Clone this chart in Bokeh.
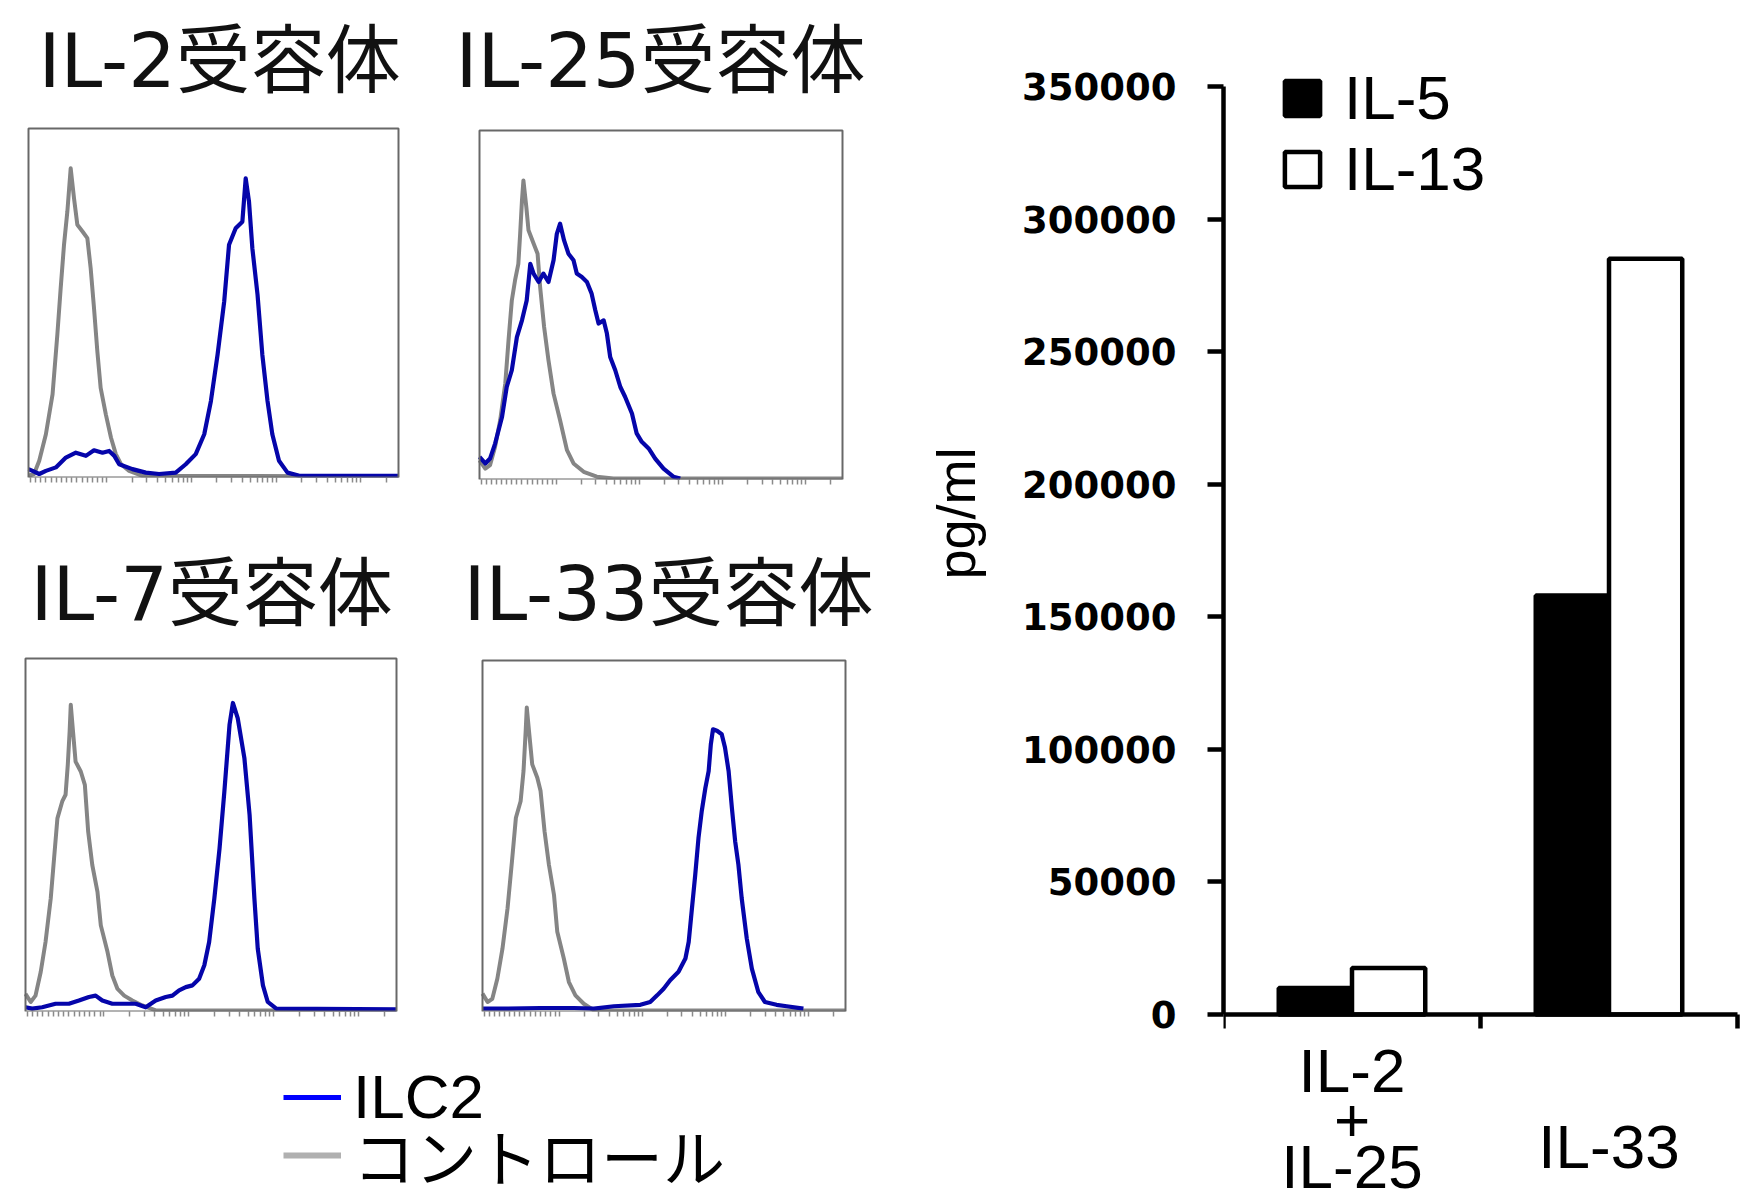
import math
from bokeh.plotting import figure
from bokeh.models import (Range1d, FixedTicker, Label, Legend, LegendItem,
                          NumeralTickFormatter, BoxAnnotation, LinearAxis)
from bokeh.layouts import row, column
from bokeh.embed import file_html
from bokeh.resources import INLINE

# ---------------- data: flow cytometry histograms ----------------
# x: fluorescence (position along the log axis, % of axis width); y: cell count (% of panel height)
panel_titles = ["IL-2受容体", "IL-25受容体", "IL-7受容体", "IL-33受容体"]
legend_hist = ["ILC2", "コントロール"]

il2r_ctrl_x = [0, 1.5, 2.9, 4.7, 6.5, 7.8, 8.7, 9.6, 10.5, 11.4, 12.3, 13.2, 14.6, 15.9, 16.8, 17.7, 18.6, 19.5, 20.9, 22.3, 23.6, 25.0, 27.2, 30.8, 100]
il2r_ctrl_y = [0.5, 1.0, 4.8, 12.4, 23.8, 41.0, 54.3, 66.7, 76.2, 88.6, 80.0, 72.4, 70.5, 68.6, 60.0, 48.6, 36.2, 25.7, 18.1, 11.4, 6.7, 3.8, 1.9, 0.5, 0.3]
il2r_ilc2_x = [0, 1.1, 2.9, 4.7, 7.4, 10.1, 12.8, 15.5, 17.7, 20.0, 21.8, 23.2, 24.5, 28.1, 31.7, 35.3, 39.8, 42.5, 45.2, 47.5, 49.3, 51.1, 52.9, 54.2, 56.0, 57.8, 58.7, 59.6, 60.5, 61.9, 63.2, 64.6, 65.9, 67.7, 70.0, 73.2, 100]
il2r_ilc2_y = [2.4, 1.9, 1.0, 1.9, 2.9, 5.7, 7.1, 6.2, 7.8, 7.1, 7.6, 6.2, 3.8, 2.4, 1.4, 1.0, 1.4, 3.8, 6.7, 12.4, 21.9, 35.2, 50.5, 66.7, 71.4, 73.3, 85.7, 79.0, 65.7, 52.4, 35.2, 21.9, 12.4, 4.8, 1.4, 0.5, 0.5]

il25r_ctrl_x = [0, 1.6, 2.9, 4.3, 5.7, 7.1, 8.0, 8.9, 9.8, 10.7, 11.2, 11.7, 12.1, 12.9, 13.5, 14.9, 16.0, 16.7, 17.8, 19.0, 20.4, 22.2, 24.1, 25.9, 28.7, 32.3, 36.9, 100]
il25r_ctrl_y = [5.5, 3.1, 4.1, 9.4, 17.0, 27.5, 39.9, 51.3, 57.1, 61.8, 70.4, 80.0, 85.7, 78.1, 71.4, 67.6, 64.7, 55.2, 43.7, 34.2, 24.6, 17.0, 8.4, 4.6, 2.2, 0.8, 0.3, 0.3]
il25r_ilc2_x = [0, 1.6, 2.9, 4.3, 6.2, 7.5, 8.9, 10.3, 11.7, 13.0, 14.0, 14.9, 16.3, 17.6, 19.0, 20.4, 21.3, 22.2, 23.3, 24.5, 25.9, 26.8, 28.2, 29.6, 30.9, 31.9, 32.8, 34.2, 35.1, 36.0, 37.4, 38.8, 40.1, 42.0, 43.3, 44.7, 46.6, 48.4, 50.7, 53.4, 55.3]
il25r_ilc2_y = [6.5, 4.6, 6.0, 10.3, 17.9, 26.5, 31.3, 40.8, 45.6, 51.3, 61.8, 59.0, 56.6, 59.0, 56.6, 62.8, 70.4, 73.3, 68.5, 64.7, 62.8, 59.0, 58.0, 56.6, 53.2, 48.5, 44.7, 45.6, 41.8, 35.1, 31.3, 26.5, 23.7, 18.9, 13.2, 10.8, 8.9, 6.0, 3.1, 0.8, 0.3]

il7r_ctrl_x = [0, 1.4, 2.7, 4.1, 5.4, 6.8, 7.7, 8.6, 9.9, 10.8, 11.4, 11.9, 12.2, 12.8, 13.5, 14.9, 16.0, 16.9, 18.0, 19.4, 20.3, 22.1, 23.4, 24.8, 26.6, 28.8, 31.5, 35.1, 100]
il7r_ctrl_y = [5.0, 2.7, 4.5, 11.2, 19.7, 32.0, 43.4, 54.7, 59.5, 61.4, 69.9, 79.4, 86.9, 79.4, 70.8, 68.0, 64.2, 50.9, 41.5, 33.9, 24.4, 16.9, 10.2, 6.4, 4.5, 3.1, 1.7, 0.3, 0.3]
il7r_ilc2_x = [0, 1.8, 4.5, 8.1, 11.7, 14.4, 17.1, 18.9, 20.7, 23.4, 27.0, 29.7, 32.4, 35.1, 37.8, 39.6, 41.4, 43.2, 45.0, 46.8, 48.2, 49.5, 50.9, 52.3, 53.6, 55.0, 55.9, 57.2, 59.0, 60.4, 61.7, 62.6, 64.0, 65.3, 67.6, 100]
il7r_ilc2_y = [1.2, 0.8, 1.2, 2.2, 2.2, 3.1, 4.1, 4.5, 3.1, 2.2, 2.2, 2.2, 1.2, 3.1, 4.1, 4.5, 6.0, 6.9, 7.4, 9.3, 13.1, 19.7, 32.0, 46.2, 62.3, 81.3, 87.4, 83.1, 71.8, 55.7, 32.0, 17.8, 7.4, 2.7, 0.8, 0.6]

il33r_ctrl_x = [0, 1.4, 2.7, 4.1, 5.5, 6.9, 8.2, 9.2, 10.5, 11.3, 11.9, 12.2, 12.8, 13.7, 15.1, 16.0, 17.1, 18.3, 19.7, 20.6, 22.4, 23.8, 25.6, 27.9, 30.7, 100]
il33r_ctrl_y = [5.1, 2.7, 3.6, 9.4, 17.9, 29.4, 43.7, 55.2, 59.9, 68.5, 80.0, 86.6, 80.0, 70.4, 66.6, 62.8, 51.3, 41.8, 33.2, 22.7, 15.1, 8.4, 4.6, 2.2, 0.3, 0.3]
il33r_ilc2_x = [0, 6.9, 16.0, 25.2, 30.7, 36.2, 43.5, 46.2, 48.1, 49.9, 51.7, 54.0, 55.9, 56.8, 57.7, 58.6, 59.5, 60.4, 61.4, 62.3, 62.9, 63.5, 64.6, 65.9, 66.8, 67.8, 68.7, 69.6, 70.5, 71.4, 72.8, 74.2, 76.0, 77.8, 81.0, 83.8, 88.4]
il33r_ilc2_y = [0.8, 0.8, 1.0, 1.0, 0.8, 1.5, 1.9, 2.7, 4.6, 6.5, 8.9, 11.3, 15.1, 19.8, 29.4, 38.9, 49.4, 57.1, 63.7, 68.5, 76.1, 80.4, 80.0, 79.0, 75.2, 68.5, 58.0, 48.5, 41.8, 32.3, 20.8, 12.2, 5.5, 2.7, 1.9, 1.5, 0.8]

# ---------------- data: cytokine production ----------------
stim_labels = ["IL-2\n+\nIL-25", "IL-33"]
cytokines = ["IL-5", "IL-13"]
il5_pgml = [10000, 158000]
il13_pgml = [17500, 285000]
y_ticks = [0, 50000, 100000, 150000, 200000, 250000, 300000, 350000]
y_max = 350000
y_title = "pg/ml"

# ---------------- styling ----------------
BLUE = "#0505aa"
GRAY = "#858585"
TITLE_FONT = "DejaVu Sans, Noto Sans CJK JP"
SANS = "Liberation Sans, Noto Sans CJK JP"

# log-like tick marks of the cytometer axis (decade starts, % of axis)
decades = [21.1, 44.0, 66.9, 89.8]
dec_w = 22.9
hist_ticks = [b for b in decades] + [b + dec_w * math.log10(k) for b in decades for k in range(2, 10)]
hist_ticks = [m for m in hist_ticks if m < 100] + [0.5 + 1.4 * i for i in range(15)]


def hist_fig(W, H, bl, bw, bt, bh, title, tx, ty, xc, yc, xi, yi):
    """W,H: figure size; bl,bw: box left/width; bt,bh: box top/height (px)."""
    fb = H - bt - bh
    p = figure(frame_width=W, frame_height=H - fb, min_border_left=0, min_border_right=0,
               min_border_top=0, min_border_bottom=fb,
               x_range=Range1d(-bl / bw * 100, (W - bl) / bw * 100),
               y_range=Range1d(0, (bt + bh) / bh * 100),
               y_axis_location=None, output_backend="svg", toolbar_location=None)
    p.grid.visible = False
    p.outline_line_color = None
    p.add_layout(BoxAnnotation(left=0, right=100, bottom=0, top=100, fill_color=None,
                               fill_alpha=0, line_color="#686868", line_alpha=1, line_width=2))
    ax = p.xaxis[0]
    ax.ticker = FixedTicker(ticks=[], minor_ticks=hist_ticks)
    ax.axis_line_color = None
    ax.minor_tick_line_color = "#8a8a8a"
    ax.minor_tick_line_width = 1.5
    ax.minor_tick_in = 0
    ax.minor_tick_out = 5
    ax.major_tick_line_color = None
    ax.major_tick_out = 0
    ax.major_label_standoff = 0
    p.line(xc, yc, line_color=GRAY, line_width=4, line_join="round")
    p.line(xi, yi, line_color=BLUE, line_width=4.2, line_join="round")
    p.add_layout(Label(x=0, y=100, x_offset=tx, y_offset=ty, text=title,
                       text_font=TITLE_FONT, text_font_size="75px", text_color="#111111",
                       text_baseline="middle", text_align="left"))
    return p


pA = hist_fig(432, 520, 28, 370, 128, 349, panel_titles[0], 10, 68,
              il2r_ctrl_x, il2r_ctrl_y, il2r_ilc2_x, il2r_ilc2_y)
pB = hist_fig(466, 520, 47, 363, 130, 349, panel_titles[1], -24, 70,
              il25r_ctrl_x, il25r_ctrl_y, il25r_ilc2_x, il25r_ilc2_y)
pC = hist_fig(432, 505, 25, 371, 138, 353, panel_titles[2], 5, 65,
              il7r_ctrl_x, il7r_ctrl_y, il7r_ilc2_x, il7r_ilc2_y)
pD = hist_fig(466, 505, 50, 363, 140, 351, panel_titles[3], -19, 67,
              il33r_ctrl_x, il33r_ctrl_y, il33r_ilc2_x, il33r_ilc2_y)

# legend for the histograms
pl = figure(frame_width=898, frame_height=175, min_border=0,
            x_range=Range1d(0, 1), y_range=Range1d(0, 1),
            x_axis_location=None, y_axis_location=None,
            output_backend="svg", toolbar_location=None)
pl.grid.visible = False
pl.outline_line_color = None
nan = float("nan")
r_ilc2 = pl.line(x=[nan], y=[nan], line_color="#0000ff", line_width=5)
r_ctrl = pl.line(x=[nan], y=[nan], line_color="#b0b0b0", line_width=6)
for rend, lab, ly in [(r_ilc2, legend_hist[0], 68), (r_ctrl, legend_hist[1], 0)]:
    pl.add_layout(Legend(items=[LegendItem(label=lab, renderers=[rend])],
                         location=(283, ly), glyph_width=58, glyph_height=40, label_standoff=12,
                         spacing=0, padding=0, margin=0, border_line_color=None,
                         background_fill_alpha=0, label_text_font=SANS,
                         label_text_font_size="62px", label_text_color="#000000"))

# ---------------- y-axis title (own narrow panel left of the bar chart) ----------------
LW = 107
pt = figure(frame_width=LW, frame_height=1200, min_border=0,
            x_range=Range1d(0, LW), y_range=Range1d(0, 1200),
            x_axis_location=None, y_axis_location=None,
            output_backend="svg", toolbar_location=None)
pt.grid.visible = False
pt.outline_line_color = None
pt.add_layout(Label(x=57, y=699, text=y_title, angle=math.pi / 2,
                    text_font="Liberation Sans", text_font_size="54px",
                    text_align="center", text_baseline="middle", text_color="#000000"))

# ---------------- bar chart ----------------
FW, FH, TOP = 523, 1188, 12        # frame size, top border
Y0_PX, YMAX_PX = 1002, 74          # px from frame top for 0 and y_max
upp = y_max / (Y0_PX - YMAX_PX)    # data units per pixel
pb = figure(frame_width=FW, frame_height=FH, min_border_left=218, min_border_right=0,
            min_border_top=TOP, min_border_bottom=0,
            x_range=Range1d(0, len(stim_labels) * FW / 514),
            y_range=Range1d(-(FH - Y0_PX) * upp, y_max + YMAX_PX * upp),
            x_axis_location=None,
            output_backend="svg", toolbar_location=None)
pb.grid.visible = False
pb.outline_line_color = None

bw = 0.285
x5 = [i + 0.5 - bw / 2 for i in range(len(stim_labels))]
x13 = [i + 0.5 + bw / 2 for i in range(len(stim_labels))]
r5 = pb.vbar(x=x5, top=il5_pgml, bottom=0, width=bw, fill_color="#000000",
             line_color="#000000", line_width=4.5)
r13 = pb.vbar(x=x13, top=il13_pgml, bottom=0, width=bw, fill_color="#ffffff",
              line_color="#000000", line_width=4.5)

ya = pb.yaxis[0]
ya.ticker = FixedTicker(ticks=y_ticks)
ya.bounds = (0, y_max)
ya.formatter = NumeralTickFormatter(format="0")
ya.axis_line_width = 4.5
ya.major_tick_line_width = 4.5
ya.major_tick_in = 0
ya.major_tick_out = 16
ya.minor_tick_line_color = None
ya.major_label_standoff = 31
ya.major_label_text_font = "DejaVu Sans"
ya.major_label_text_font_style = "bold"
ya.major_label_text_font_size = "37px"
ya.major_label_text_color = "#000000"

xa = LinearAxis(fixed_location=0, ticker=FixedTicker(ticks=[], minor_ticks=list(range(len(stim_labels) + 1))),
                bounds=(0, len(stim_labels)))
xa.axis_line_width = 4.5
xa.major_tick_line_color = None
xa.major_tick_out = 0
xa.minor_tick_line_width = 4.5
xa.minor_tick_line_color = "#000000"
xa.minor_tick_in = 14
xa.minor_tick_out = 0
xa.major_label_standoff = 0
pb.add_layout(xa, "above")

line_offsets = [[-56, -105, -152], [-132]]
for i, lab in enumerate(stim_labels):
    for txt, off in zip(lab.split("\n"), line_offsets[i]):
        pb.add_layout(Label(x=i + 0.5, y=0, y_offset=off, text=txt, text_font=SANS,
                            text_font_size="62px", text_align="center",
                            text_baseline="middle", text_color="#000000"))

leg_b = Legend(items=[LegendItem(label=cytokines[0], renderers=[r5]),
                      LegendItem(label=cytokines[1], renderers=[r13])],
               location=(57, 996), glyph_width=44, glyph_height=44, label_standoff=20,
               spacing=0, padding=0, margin=0, border_line_color=None,
               background_fill_alpha=0, label_text_font=SANS, label_text_font_size="62px",
               label_text_color="#000000")
pb.add_layout(leg_b)

left = column(row(pA, pB, spacing=0), row(pC, pD, spacing=0), pl, spacing=0)
page = row(left, pt, pb, spacing=0)

open("out.html", "w").write(file_html(page, INLINE))
